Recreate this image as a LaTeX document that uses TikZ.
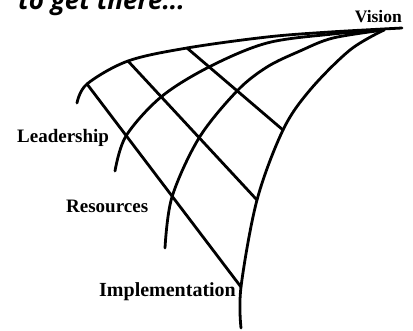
\documentclass[tikz,border=0pt]{standalone}
\usepackage{fontspec}
\setmainfont{Liberation Serif}
\newfontfamily\titlefont{Open Sans}
\begin{document}
\begin{tikzpicture}[x=1pt,y=-1pt,
  curve/.style={line width=2.8pt, line cap=round, line join=round},
  lbl/.style={font=\bfseries\fontsize{19}{19}\selectfont, inner sep=0pt}]
\useasboundingbox (0,0) rectangle (413,330);
% title (cut off at top)
\node[anchor=base west, inner sep=0pt, font=\titlefont\bfseries\itshape\fontsize{26}{26}\selectfont] (title) at (18,9) {to get there...};
% key points
\coordinate (V) at (384,30);
\coordinate (a1) at (87,84);  \coordinate (a2) at (126,136); \coordinate (a3) at (172,197); \coordinate (a4) at (241,287);
\coordinate (b1) at (128,61); \coordinate (b2) at (161,97);  \coordinate (b3) at (199,138); \coordinate (b4) at (257,200);
\coordinate (c1) at (187,48); \coordinate (c2) at (209,67);  \coordinate (c3) at (237,91);  \coordinate (c4) at (283,130);
% curves
\draw[curve] plot[smooth, tension=0.55] coordinates {(402,28) (330,32) (267,37) (c1) (b1) (a1) (77,103)};
\draw[curve] plot[smooth, tension=0.55] coordinates {(V) (333,34) (267,43) (c2) (b2) (a2) (115,171)};
\draw[curve] plot[smooth, tension=0.55] coordinates {(V) (333,38) (300,51) (267,67) (c3) (b3) (a3) (165,248)};
\draw[curve] plot[smooth, tension=0.55] coordinates {(V) (350,50) (310,90) (c4) (b4) (a4) (241,328)};
% cross lines
\draw[curve] (a1) -- (a4);
\draw[curve] (b1) -- (b4);
\draw[curve] (c1) -- (c4);
% labels
\node[lbl, anchor=base east, font=\bfseries\fontsize{17.5}{17.5}\selectfont] (vision) at (402,22) {Vision};
\node[lbl, anchor=base west] (lead) at (17,142) {Leadership};
\node[lbl, anchor=base west] (res) at (66,212) {Resources};
\node[lbl, anchor=base west, font=\bfseries\fontsize{20}{20}\selectfont] (impl) at (99,296) {Implementation};
\end{tikzpicture}
\end{document}
